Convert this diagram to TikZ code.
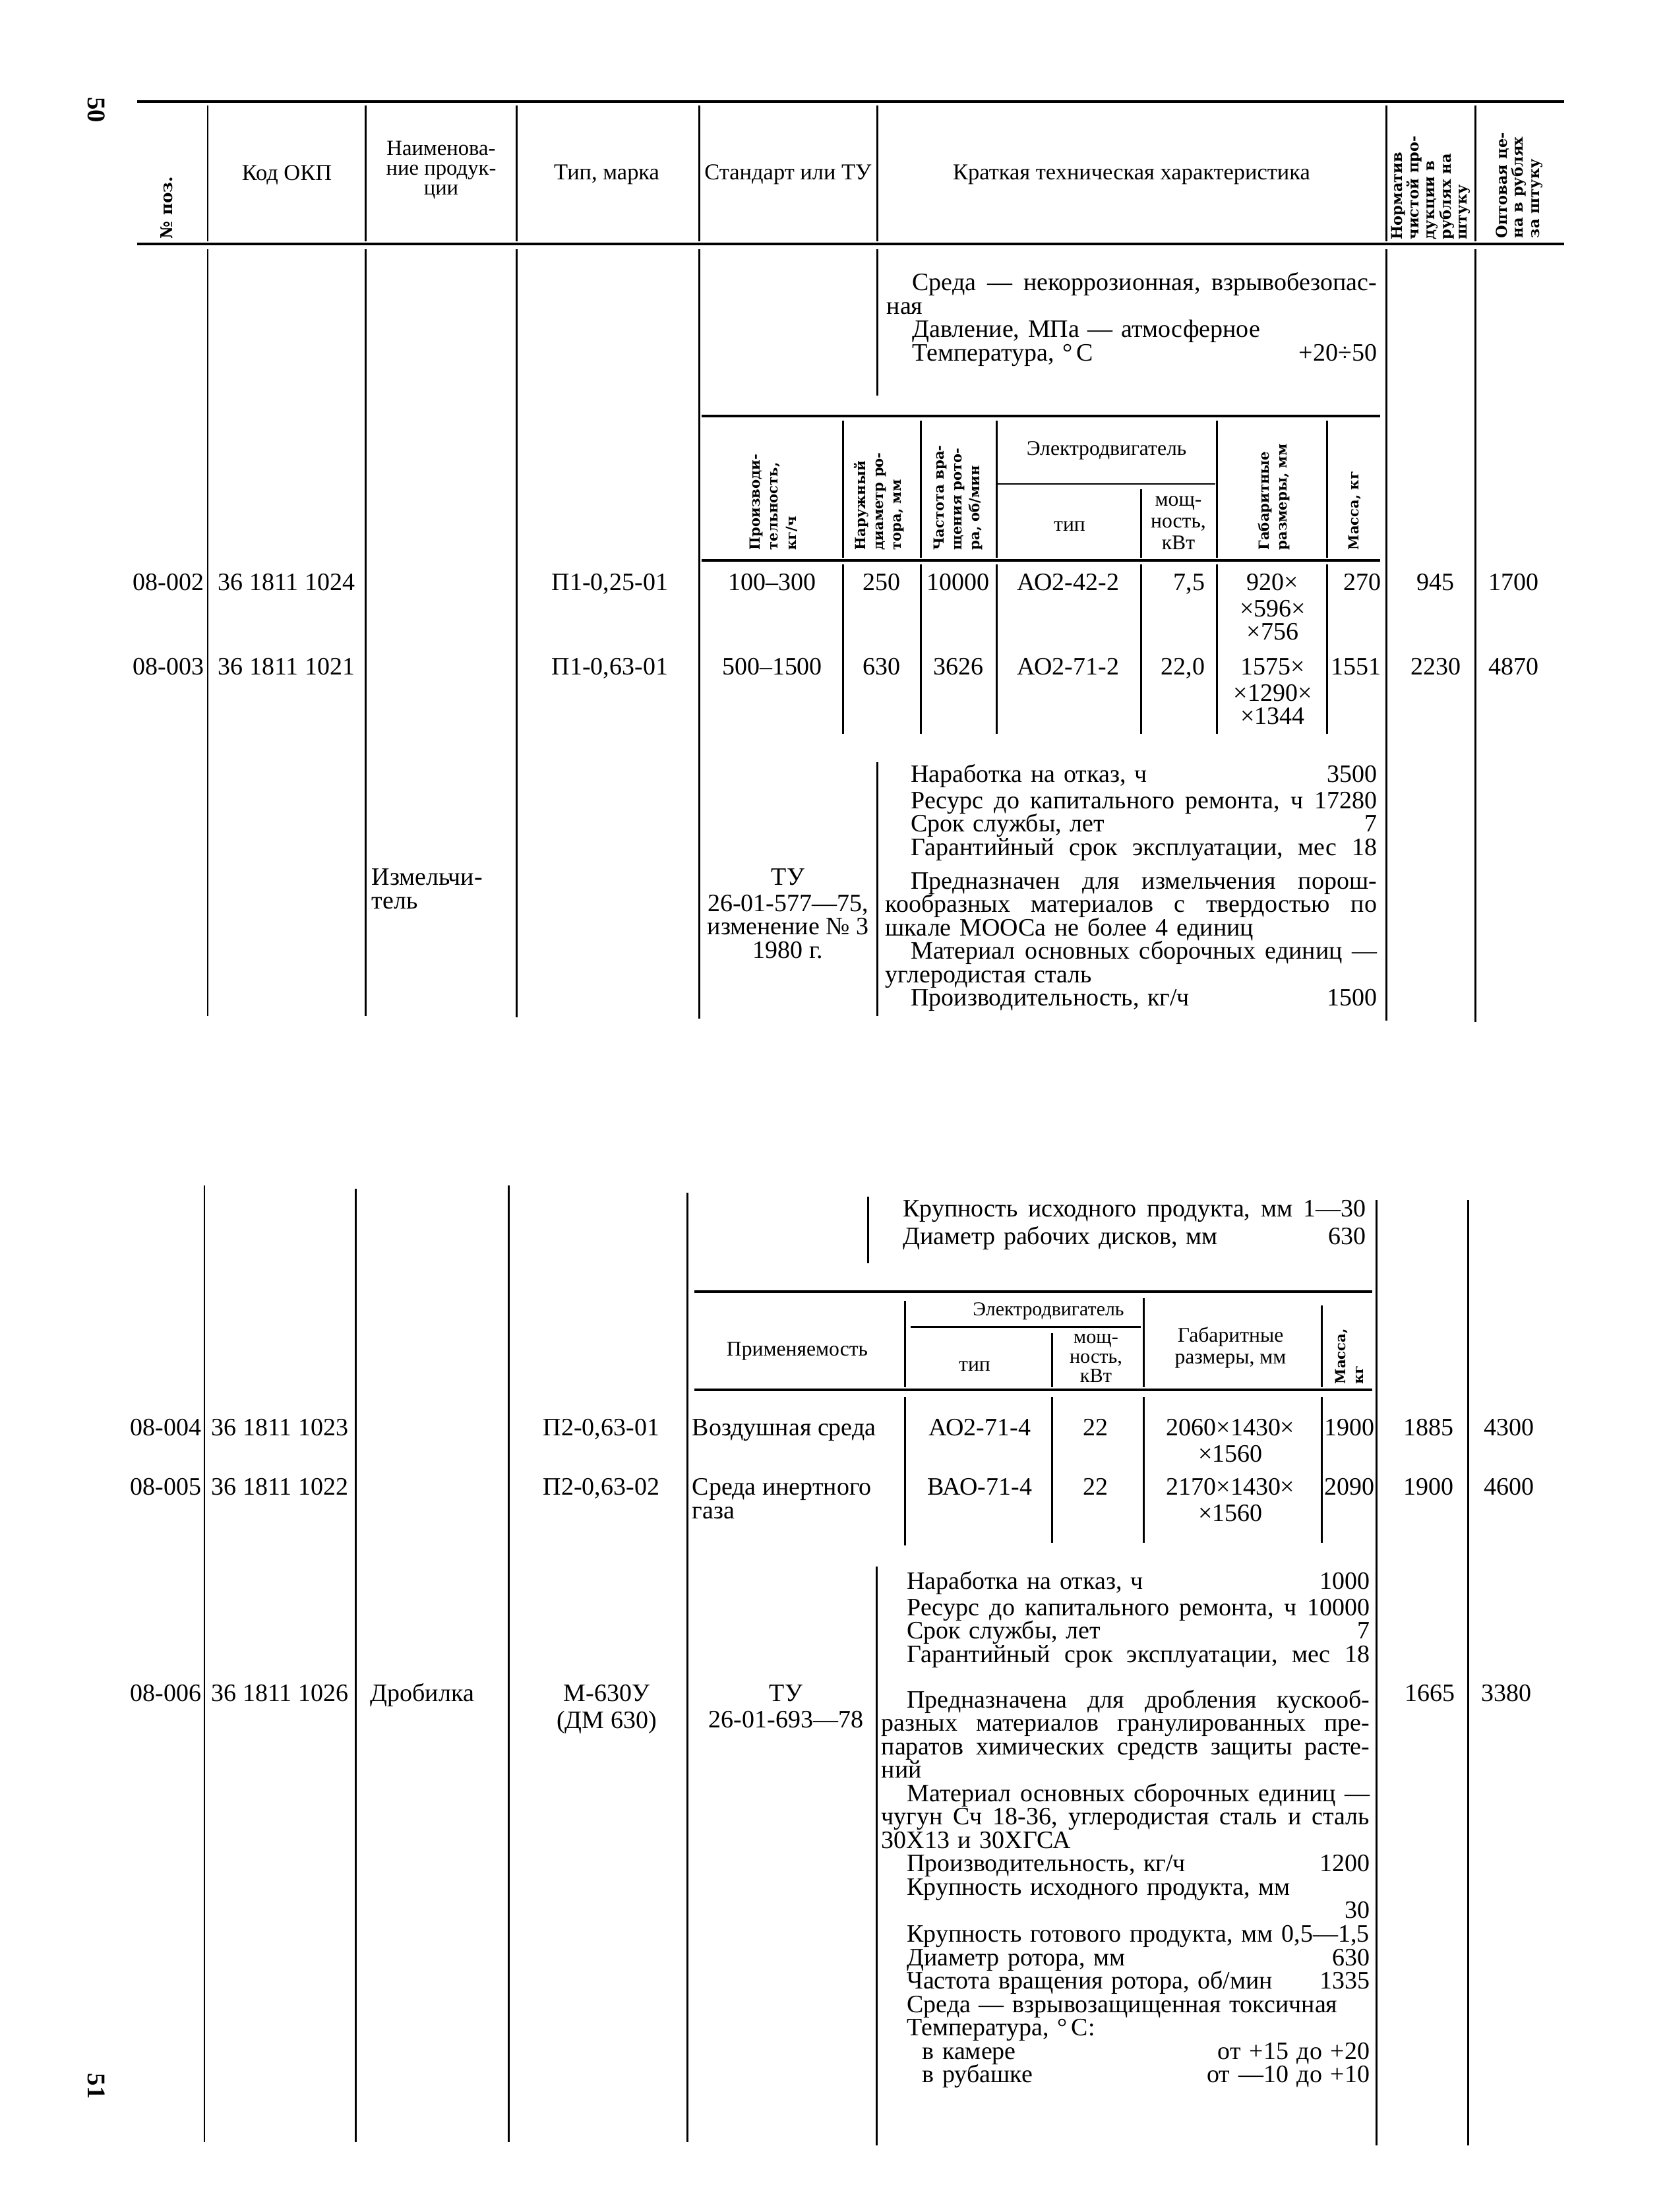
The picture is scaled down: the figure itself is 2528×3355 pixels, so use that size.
\documentclass[tikz,border=0pt]{standalone}
\usepackage{fontspec}
\setmainfont{Liberation Serif}
\newfontfamily\slab{DejaVu Serif}
\newlength\ind \setlength\ind{11pt}
\newcommand\lv[2]{\hspace*{\ind}#1\hfill#2}
\newcommand\bodyf{\fontsize{10.8}{10.1}\selectfont}
\tikzset{
  hrule/.style={line width=1.3pt},
  srule/.style={line width=1.1pt},
  vline/.style={line width=0.85pt},
  body/.style={font=\bodyf, inner sep=0pt},
  cell/.style={body, anchor=base},
  cellr/.style={body, anchor=base east},
  celll/.style={body, anchor=base west},
  blk/.style={body, anchor=north west, align=left},
  mcell/.style={body, anchor=north, align=center},
  hdr/.style={font=\fontsize{9.8}{9}\selectfont, inner sep=0pt, align=center},
  shdr/.style={font=\fontsize{9}{9.5}\selectfont, inner sep=0pt, align=center},
  rot/.style={rotate=90, anchor=west, align=left, inner sep=0pt, font=\slab\bfseries\fontsize{6}{7.8}\selectfont},
  pnum/.style={rotate=-90, font=\bfseries\fontsize{11}{11}\selectfont, inner sep=0pt},
}
\begin{document}
\begin{tikzpicture}[x=0.01cm,y=-0.01cm]
\useasboundingbox (0,0) rectangle (2528,3355);
\fill[white] (0,0) rectangle (2528,3355);

% page numbers
\node[pnum] (p50) at (146,167) {50};
\node[pnum] (p51) at (146,3164) {51};

%================ TOP PAGE ================
\draw[hrule] (208,154) -- (2372,154);
\draw[hrule] (208,370) -- (2372,370);
\foreach \x in {315,554,783,1060,1330,2102,2237} \draw[vline] (\x,160) -- (\x,366);
\foreach \x/\e in {315/1541,554/1541,783/1543,1060/1545,2102/1548,2237/1550} \draw[vline] (\x,378) -- (\x,\e);
\draw[vline] (1330,378) -- (1330,600);
\draw[vline] (1330,1156) -- (1330,1541);

% header
\node[rot, anchor=center, font=\slab\bfseries\fontsize{7}{7.5}\selectfont] (hpos) at (253,315) {№ поз.};
\node[hdr] (hkod) at (435,265) {Код ОКП};
\node[hdr, font=\fontsize{9.3}{8.6}\selectfont] (hname) at (669,258) {Наименова-\\ние продук-\\ции};
\node[hdr] (htip) at (920,265) {Тип, марка};
\node[hdr] (hstd) at (1195,265) {Стандарт или ТУ};
\node[hdr] (hkr) at (1716,265) {Краткая техническая характеристика};
\node[rot, font=\slab\bfseries\fontsize{6.4}{7}\selectfont] (hnorm) at (2170,364) {Норматив\\чистой про-\\дукции в\\рублях на\\штуку};
\node[rot, font=\slab\bfseries\fontsize{6.4}{7}\selectfont] (hopt) at (2304,362) {Оптовая це-\\на в рублях\\за штуку};

% first text block
\node[blk, text width=7.43cm] (b1) at (1344,413) {\strut\hspace*{\ind}Среда \hfill — \hfill некоррозионная, \hfill взрывобезопас-\\
ная\\
\hspace*{\ind}Давление, МПа — атмосферное\\
\lv{Температура, °\,С}{+20÷50}};

% sub-table header
\draw[srule] (1064,631) -- (2093,631);
\draw[srule] (1064,850) -- (2093,850);
\draw[vline] (1511,734) -- (1843,734);
\foreach \x in {1278,1396,1511,1845,2012} \draw[vline] (\x,638) -- (\x,846);
\draw[vline] (1730,742) -- (1730,846);
\foreach \x in {1278,1396,1511,1730,1845,2012} \draw[vline] (\x,856) -- (\x,1113);

\node[rot] (s1) at (1173,835) {Производи-\\тельность,\\кг/ч};
\node[rot] (s2) at (1333,835) {Наружный\\диаметр ро-\\тора, мм};
\node[rot] (s3) at (1453,835) {Частота вра-\\щения рото-\\ра, об/мин};
\node[shdr] (s4) at (1678,683) {Электродвигатель};
\node[shdr] (s5) at (1622,798) {тип};
\node[shdr] (s6) at (1787,793) {мощ-\\ность,\\кВт};
\node[rot] (s7) at (1932,835) {Габаритные\\размеры, мм};
\node[rot] (s8) at (2055,835) {Масса, кг};

% row 08-002
\node[cellr] (r1a) at (310,895) {08-002};
\node[celll] (r1b) at (330,895) {36 1811 1024};
\node[cell] (r1c) at (925,895) {П1-0,25-01};
\node[cell] (r1d) at (1171,895) {100–300};
\node[cell] (r1e) at (1337,895) {250};
\node[cell] (r1f) at (1453,895) {10000};
\node[cell] (r1g) at (1620,895) {АО2-42-2};
\node[cellr] (r1h) at (1828,895) {7,5};
\node[mcell] (r1i) at (1930,870) {\strut 920×\\×596×\\×756};
\node[cellr] (r1j) at (2095,895) {270};
\node[cell] (r1k) at (2177,895) {945};
\node[cell] (r1l) at (2295,895) {1700};

% row 08-003
\node[cellr] (r2a) at (310,1023) {08-003};
\node[celll] (r2b) at (330,1023) {36 1811 1021};
\node[cell] (r2c) at (925,1023) {П1-0,63-01};
\node[cell] (r2d) at (1171,1023) {500–1500};
\node[cell] (r2e) at (1337,1023) {630};
\node[cell] (r2f) at (1453,1023) {3626};
\node[cell] (r2g) at (1620,1023) {АО2-71-2};
\node[cellr] (r2h) at (1828,1023) {22,0};
\node[mcell] (r2i) at (1930,998) {\strut 1575×\\×1290×\\×1344};
\node[cellr] (r2j) at (2095,1023) {1551};
\node[cell] (r2k) at (2177,1023) {2230};
\node[cell] (r2l) at (2295,1023) {4870};

% second text block
\node[blk, text width=7.45cm] (b2) at (1342,1159) {\strut\lv{Наработка на отказ, ч}{3500}\\
\hspace*{\ind}Ресурс \hfill до \hfill капитального \hfill ремонта, \hfill ч \hfill 17280\\
\lv{Срок службы, лет}{7}\\
\hspace*{\ind}Гарантийный \hfill срок \hfill эксплуатации, \hfill мес \hfill 18\\[4.3pt]
\hspace*{\ind}Предназначен \hfill для \hfill измельчения \hfill порош-\\
кообразных \hfill материалов \hfill с \hfill твердостью \hfill по\\
шкале МООСа не более 4 единиц\\
\hspace*{\ind}Материал \hfill основных \hfill сборочных \hfill единиц \hfill —\\
углеродистая сталь\\
\lv{Производительность, кг/ч}{1500}};

\node[blk] (izm) at (563,1317) {\strut Измельчи-\\тель};
\node[mcell] (tu1) at (1195,1317) {\strut ТУ\\26-01-577—75,\\изменение № 3\\1980 г.};

%================ BOTTOM PAGE ================
\draw[vline] (310,1798) -- (310,3249);
\draw[vline] (539,1803) -- (539,3249);
\draw[vline] (771,1798) -- (771,3249);
\draw[vline] (1042,1809) -- (1042,3249);
\draw[vline] (1316,1815) -- (1316,1916);
\draw[vline] (2087,1820) -- (2087,3254);
\draw[vline] (2226,1820) -- (2226,3254);
\draw[vline] (1329,2376) -- (1329,3254);

\node[blk, text width=7.40cm] (b3) at (1330,1820) {\strut\hspace*{\ind}Крупность \hfill исходного \hfill продукта, \hfill мм \hfill 1—30\\
\lv{Диаметр рабочих дисков, мм}{630}};

% sub-table
\draw[srule] (1053,1959) -- (2081,1959);
\draw[srule] (1053,2108) -- (2081,2108);
\draw[vline] (1381,2012) -- (1730,2012);
\draw[vline] (1372,1973) -- (1372,2104);
\draw[vline] (1595,2022) -- (1595,2104);
\draw[vline] (1734,1969) -- (1734,2104);
\draw[vline] (2004,1980) -- (2004,2104);
\draw[vline] (1372,2119) -- (1372,2344);
\foreach \x in {1595,1734,2004} \draw[vline] (\x,2119) -- (\x,2340);

\node[shdr] (t1) at (1209,2049) {Применяемость};
\node[shdr, font=\fontsize{8.5}{9}\selectfont] (t2) at (1590,1989) {Электродвигатель};
\node[shdr] (t3) at (1478,2072) {тип};
\node[shdr, font=\fontsize{8.6}{8.3}\selectfont] (t4) at (1662,2060) {мощ-\\ность,\\кВт};
\node[shdr] (t5) at (1866,2044) {Габаритные\\размеры, мм};
\node[rot] (t6) at (2046,2100) {Масса,\\кг};

% row 08-004
\node[cellr] (r4a) at (306,2177) {08-004};
\node[celll] (r4b) at (320,2177) {36 1811 1023};
\node[cell] (r4c) at (912,2177) {П2-0,63-01};
\node[celll] (r4d) at (1049,2177) {Воздушная среда};
\node[cell] (r4e) at (1486,2177) {АО2-71-4};
\node[cell] (r4f) at (1661,2177) {22};
\node[mcell] (r4g) at (1866,2152) {\strut 2060×1430×\\×1560};
\node[cell] (r4h) at (2046,2177) {1900};
\node[cell] (r4i) at (2166,2177) {1885};
\node[cell] (r4j) at (2288,2177) {4300};

% row 08-005
\node[cellr] (r5a) at (306,2267) {08-005};
\node[celll] (r5b) at (320,2267) {36 1811 1022};
\node[cell] (r5c) at (912,2267) {П2-0,63-02};
\node[blk] (r5d) at (1049,2242) {\strut Среда инертного\\газа};
\node[cell] (r5e) at (1486,2267) {ВАО-71-4};
\node[cell] (r5f) at (1661,2267) {22};
\node[mcell] (r5g) at (1866,2242) {\strut 2170×1430×\\×1560};
\node[cell] (r5h) at (2046,2267) {2090};
\node[cell] (r5i) at (2166,2267) {1900};
\node[cell] (r5j) at (2288,2267) {4600};

% lower text block
\node[blk, text width=7.40cm] (b4) at (1336,2383) {\strut\lv{Наработка на отказ, ч}{1000}\\
\hspace*{\ind}Ресурс \hfill до \hfill капитального \hfill ремонта, \hfill ч \hfill 10000\\
\lv{Срок службы, лет}{7}\\
\hspace*{\ind}Гарантийный \hfill срок \hfill эксплуатации, \hfill мес \hfill 18\\[9.5pt]
\hspace*{\ind}Предназначена \hfill для \hfill дробления \hfill кускооб-\\
разных \hfill материалов \hfill гранулированных \hfill пре-\\
паратов \hfill химических \hfill средств \hfill защиты \hfill расте-\\
ний\\
\hspace*{\ind}Материал \hfill основных \hfill сборочных \hfill единиц \hfill —\\
чугун \hfill Сч \hfill 18-36, \hfill углеродистая \hfill сталь \hfill и \hfill сталь\\
30Х13 и 30ХГСА\\
\lv{Производительность, кг/ч}{1200}\\
\hspace*{\ind}Крупность исходного продукта, мм\\
\hspace*{\fill}30\\
\hspace*{\ind}\mbox{Крупность готового продукта, мм 0,5—1,5}\\
\lv{Диаметр ротора, мм}{630}\\
\lv{Частота вращения ротора, об/мин}{1335}\\
\hspace*{\ind}Среда — взрывозащищенная токсичная\\
\hspace*{\ind}Температура, °\,С:\\
\hspace*{1.6\ind}в камере\hfill от +15 до +20\\
\hspace*{1.6\ind}в рубашке\hfill от —10 до +10};

% row 08-006
\node[cellr] (r6a) at (306,2580) {08-006};
\node[celll] (r6b) at (320,2580) {36 1811 1026};
\node[celll] (r6c) at (561,2580) {Дробилка};
\node[mcell] (r6d) at (920,2555) {\strut М-630У\\(ДМ 630)};
\node[mcell] (r6e) at (1192,2555) {\strut ТУ\\26-01-693—78};
\node[cell] (r6f) at (2168,2580) {1665};
\node[cell] (r6g) at (2284,2580) {3380};
\end{tikzpicture}
\end{document}
